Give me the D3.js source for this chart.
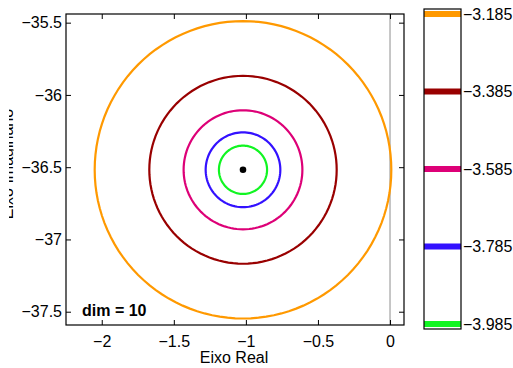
<!DOCTYPE html>
<html>
<head>
<meta charset="utf-8">
<script src="https://cdn.jsdelivr.net/npm/d3@7"></script>
<style>
  body { margin: 0; background: #fff; }
  svg text { font-family: "Liberation Sans", Arial, sans-serif; }
</style>
</head>
<body>
<div id="chart"></div>
<script>
// contour levels (colorbar) and matching circle radii around the pole
var levels = [-3.985, -3.785, -3.585, -3.385, -3.185]
var radii = [0.167, 0.259, 0.412, 0.650, 1.029]
var colors = ['#11f522', '#3311ff', '#dd0077', '#990000', '#ff9900']
var center = { re: -1.02, im: -36.518 }
var xTicks = [-2, -1.5, -1, -0.5, 0]
var yTicks = [-35.5, -36, -36.5, -37, -37.5]

var width = 513, height = 368
var box = { left: 66, right: 404, top: 14, bottom: 325 }
var cbar = { left: 424, right: 461, top: 9, bottom: 329 }

var svg = d3.select('#chart').append('svg')
    .attr('width', width)
    .attr('height', height)

var x = d3.scaleLinear().domain([-2.248, 0.097]).range([box.left, box.right])
var y = d3.scaleLinear().domain([-37.592, -35.44]).range([box.bottom, box.top])

svg.append('clipPath').attr('id', 'plotclip')
    .append('rect')
    .attr('x', box.left).attr('y', box.top)
    .attr('width', box.right - box.left).attr('height', box.bottom - box.top)

// grey line on the imaginary axis
svg.append('line')
    .attr('x1', x(0)).attr('x2', x(0))
    .attr('y1', box.top).attr('y2', box.bottom)
    .attr('stroke', '#b4b4b4')
    .attr('stroke-width', 1.5)

// circles (level curves)
var angles = d3.range(0, 361, 3)
var line = d3.line()
    .x(d => d[0])
    .y(d => d[1])

var rings = levels.map(function (lv, i) {
    return { level: lv, r: radii[i], color: colors[i] }
})

svg.append('g').attr('clip-path', 'url(#plotclip)')
    .selectAll('path')
    .data(rings)
    .enter().append('path')
    .attr('d', function (d) {
        return line(angles.map(function (a) {
            var t = a * Math.PI / 180
            return [x(center.re + d.r * Math.cos(t)), y(center.im + d.r * Math.sin(t))]
        }))
    })
    .attr('fill', 'none')
    .attr('stroke', d => d.color)
    .attr('stroke-width', 2.2)

// pole
svg.append('circle')
    .attr('cx', x(center.re))
    .attr('cy', y(center.im))
    .attr('r', 3.3)
    .attr('fill', '#000')

// axes
var xAxis = d3.axisBottom(x).tickValues(xTicks).tickSizeInner(-5).tickSizeOuter(0).tickPadding(11)
    .tickFormat(d3.format('~g'))
var yAxis = d3.axisLeft(y).tickValues(yTicks).tickSizeInner(-5).tickSizeOuter(0).tickPadding(4)
    .tickFormat(d3.format('~g'))

var gx = svg.append('g')
    .attr('transform', `translate(0,${box.bottom})`)
    .call(xAxis)
var gy = svg.append('g')
    .attr('transform', `translate(${box.left},0)`)
    .call(yAxis)

svg.append('g')
    .attr('transform', `translate(0,${box.top})`)
    .call(d3.axisTop(x).tickValues(xTicks).tickSizeInner(-5).tickSizeOuter(0).tickFormat(''))
svg.append('g')
    .attr('transform', `translate(${box.right},0)`)
    .call(d3.axisRight(y).tickValues(yTicks).tickSizeInner(-5).tickSizeOuter(0).tickFormat(''))

svg.selectAll('.domain').remove()
svg.selectAll('.tick line').attr('stroke', '#000')
svg.selectAll('.tick text').attr('font-size', 16).attr('fill', '#000')
    .style('font-family', '"Liberation Sans", Arial, sans-serif')

svg.append('rect')
    .attr('x', box.left).attr('y', box.top)
    .attr('width', box.right - box.left).attr('height', box.bottom - box.top)
    .attr('fill', 'none')
    .attr('stroke', '#000')
    .attr('stroke-width', 1.2)

// labels
svg.append('text')
    .attr('x', (box.left + box.right) / 2 - 1)
    .attr('y', 363)
    .attr('text-anchor', 'middle')
    .attr('font-size', 16)
    .text('Eixo Real')

svg.append('clipPath').attr('id', 'ylabclip')
    .append('rect').attr('x', 9).attr('y', 0).attr('width', 4.5).attr('height', height)

svg.append('g').attr('clip-path', 'url(#ylabclip)')
    .append('text')
    .attr('transform', 'translate(13,164) rotate(-90)')
    .attr('text-anchor', 'middle')
    .attr('font-size', 16)
    .text('Eixo Imaginário')

svg.append('text')
    .attr('x', 82)
    .attr('y', 316)
    .attr('font-size', 16)
    .attr('font-weight', 'bold')
    .text('dim = 10')

// colorbar
var c = d3.scaleLinear().domain([-3.998, -3.172]).range([cbar.bottom, cbar.top])

svg.append('g')
    .selectAll('line')
    .data(rings)
    .enter().append('line')
    .attr('x1', cbar.left).attr('x2', cbar.right)
    .attr('y1', d => c(d.level)).attr('y2', d => c(d.level))
    .attr('stroke', d => d.color)
    .attr('stroke-width', 6)

svg.append('rect')
    .attr('x', cbar.left).attr('y', cbar.top)
    .attr('width', cbar.right - cbar.left).attr('height', cbar.bottom - cbar.top)
    .attr('fill', 'none')
    .attr('stroke', '#000')
    .attr('stroke-width', 1.2)

var gc = svg.append('g')
    .attr('transform', `translate(${cbar.right},0)`)
    .call(d3.axisRight(c).tickValues(levels).tickSize(0).tickPadding(2).tickFormat(d3.format('.3f')))
gc.select('.domain').remove()
gc.selectAll('text').attr('font-size', 16).attr('fill', '#000')
    .style('font-family', '"Liberation Sans", Arial, sans-serif')
</script>
</body>
</html>
